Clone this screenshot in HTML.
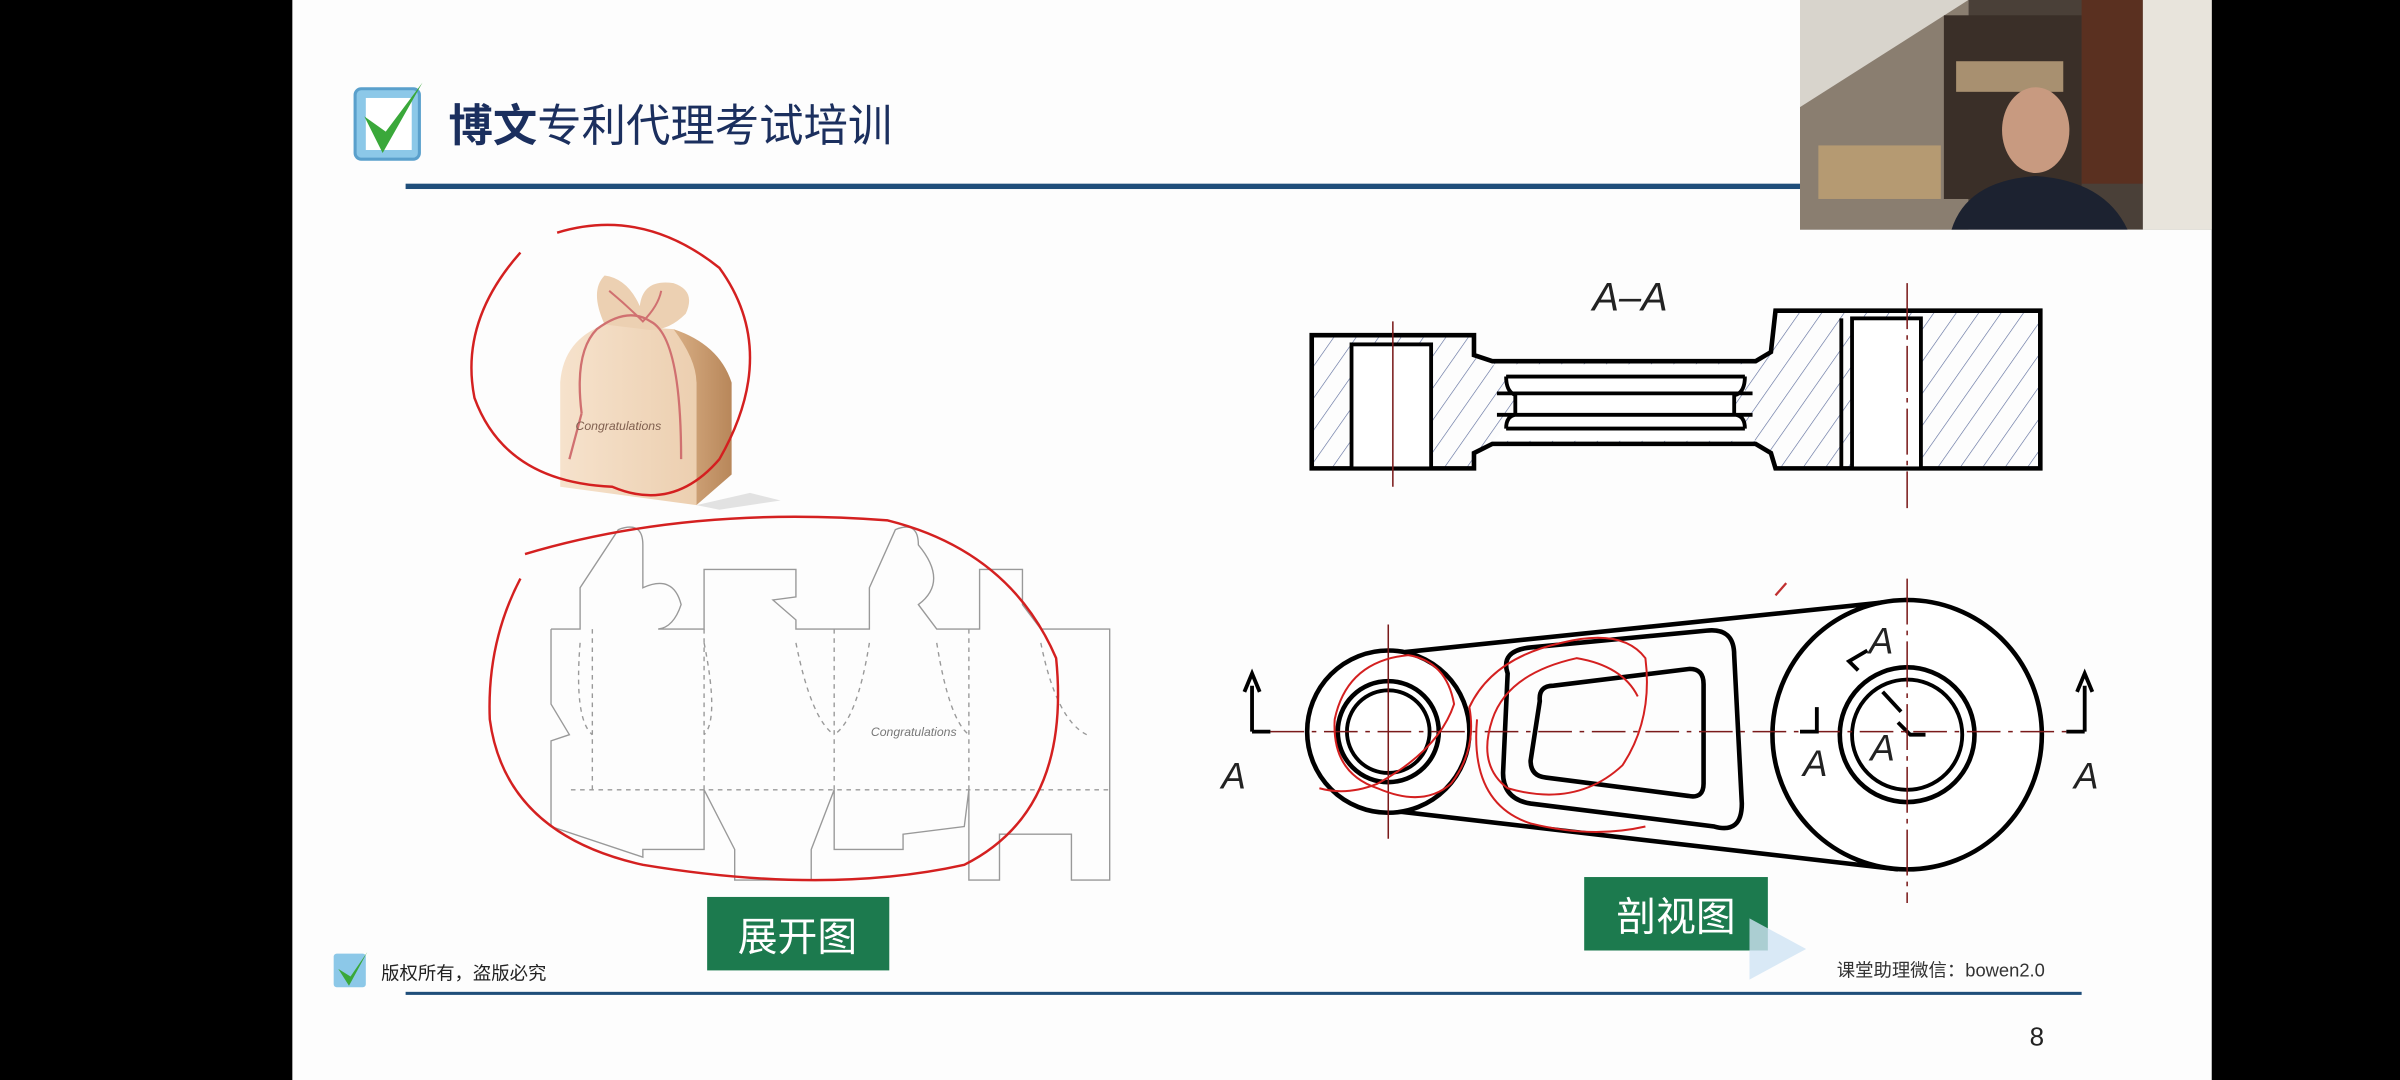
<!DOCTYPE html>
<html><head><meta charset="utf-8"><style>
html,body{margin:0;padding:0;background:#000;width:2400px;height:1080px;overflow:hidden}
svg{display:block}
text{font-family:"Liberation Sans","Noto Sans CJK SC",sans-serif}
</style></head><body>
<svg width="2400" height="1080" viewBox="0 0 1568 705.6" preserveAspectRatio="none" xmlns="http://www.w3.org/2000/svg">
<defs>
<pattern id="h" width="12" height="12" patternUnits="userSpaceOnUse" patternTransform="rotate(35)">
<line x1="0" y1="0" x2="0" y2="12" stroke="#5a6a9a" stroke-width="0.8"/></pattern>
<linearGradient id="box" x1="0" x2="1"><stop offset="0" stop-color="#f6e2cc"/><stop offset="1" stop-color="#eccfb0"/></linearGradient>
<linearGradient id="side" x1="0" x2="1"><stop offset="0" stop-color="#d8ae84"/><stop offset="1" stop-color="#b8875a"/></linearGradient>
</defs>
<rect x="0" y="0" width="1568" height="706" fill="#000"/>
<rect x="191" y="0" width="1254" height="706" fill="#fdfdfd"/>
<!-- webcam -->
<rect x="1176" y="0" width="269" height="150" fill="#4a4038"/>
<rect x="1176" y="0" width="110" height="70" fill="#d8d4cc"/>
<polygon points="1176,70 1286,0 1286,150 1176,150" fill="#8a7e70"/>
<rect x="1270" y="10" width="90" height="120" fill="#3a2f28"/>
<rect x="1278" y="40" width="70" height="20" fill="#a89070"/>
<rect x="1188" y="95" width="80" height="35" fill="#b59a72"/>
<rect x="1360" y="0" width="40" height="120" fill="#5a3020"/>
<ellipse cx="1330" cy="85" rx="22" ry="28" fill="#c89a80"/>
<path d="M1275 150 Q1285 118 1330 115 Q1375 118 1390 150Z" fill="#1c2230"/>
<rect x="1400" y="0" width="45" height="150" fill="#e8e4dc"/>
<!-- title -->
<rect x="232" y="58" width="42" height="46" rx="4" fill="#8cc8e8" stroke="#5aa0cc" stroke-width="2"/>
<rect x="239" y="64" width="30" height="34" fill="#fff"/>
<path d="M238 76 L250 100 L276 54 L252 86 Z" fill="#3aa83a"/>
<text x="293" y="92" font-size="29" fill="#1b2f5e"><tspan font-weight="bold">博文</tspan>专利代理考试培训</text>
<rect x="265" y="120" width="911" height="3.5" fill="#1f4e7a"/>
<!-- gift box -->
<path d="M455 330 L490 322 L510 327 L470 333Z" fill="#e2e2e2"/>
<path d="M440 215 Q470 225 478 250 L478 310 L455 330 L455 250 Z" fill="url(#side)"/>
<path d="M366 250 Q368 222 395 212 L440 215 Q455 235 455 250 L455 330 L366 318 Z" fill="url(#box)"/>
<path d="M395 212 Q385 190 395 180 Q410 182 418 200 Q420 182 440 185 Q455 190 448 205 Q435 218 420 215 Z" fill="#ecd0b2"/>
<path d="M380 270 Q375 230 390 215 Q410 200 425 210 Q445 220 445 300 M380 270 L372 300" fill="none" stroke="#d07070" stroke-width="1.5"/>
<path d="M398 190 Q410 200 420 210 Q430 200 432 190" fill="none" stroke="#d07070" stroke-width="1.3"/>
<text x="376" y="281" font-size="8" font-style="italic" fill="#806050" font-family="Liberation Serif,serif">Congratulations</text>
<path d="M364 152 Q420 135 470 175 Q510 230 470 300 Q440 335 400 318 Q330 315 310 260 Q300 210 340 165" fill="none" stroke="#d42020" stroke-width="1.6"/>
<!-- dieline -->
<g fill="none" stroke="#999" stroke-width="0.9">
<path d="M360 411 L379 411 L379 384 L404 346 Q420 340 420 356 L420 384 Q440 375 445 395 Q440 410 430 411 L460 411 L460 372 L520 372 L520 390 L505 392 L520 405 L520 411 L568 411 L568 384 L585 346 Q600 340 600 356 Q620 380 600 395 L612 411 L640 411 L640 372 L668 372 L668 395 L680 411 L725 411 L725 575 L700 575 L700 545 L653 545 L653 575 L633 575 L633 516 M360 411 L360 460 L372 480 L360 484 L360 540 L420 560 L420 555 L460 555 L460 516 L480 555 L480 575 L530 575 L530 555 L545 516 L545 555 L590 555 L590 545 L630 540 L633 516"/>
</g>
<g fill="none" stroke="#999" stroke-width="0.9" stroke-dasharray="3,3">
<path d="M373 516 L725 516 M387 411 L387 516 M460 411 L460 516 M545 411 L545 516 M633 411 L633 516"/>
<path d="M379 420 Q375 470 387 480 M460 420 Q470 470 460 480 M520 420 Q530 470 545 480 M568 420 Q560 470 545 480 M612 420 Q620 470 633 480 M680 420 Q690 470 710 480"/>
</g>
<text x="569" y="481" font-size="8" font-style="italic" fill="#777" font-family="Liberation Serif,serif">Congratulations</text>
<path d="M343 362 Q450 330 580 340 Q660 360 690 430 Q700 530 630 565 Q540 585 420 565 Q330 545 320 470 Q318 420 340 378" fill="none" stroke="#d42020" stroke-width="1.6"/>
<rect x="462" y="586" width="119" height="48" fill="#1c7a4e"/>
<text x="521" y="621" font-size="26" fill="#fff" text-anchor="middle">展开图</text>
<!-- section view -->
<text x="1065" y="203" font-size="26" font-style="italic" fill="#222" text-anchor="middle">A–A</text>
<path d="M857 219 L963 219 L963 232 L975 236 L1147 236 L1157 230 L1160 203 L1333 203 L1333 306 L1160 306 L1157 296 L1147 290 L975 290 L963 296 L963 306 L857 306 Z" fill="url(#h)" stroke="#000" stroke-width="3"/>
<rect x="883" y="225" width="52" height="81" fill="#fff" stroke="#000" stroke-width="2.5"/>
<rect x="1210" y="208" width="45" height="98" fill="#fff" stroke="#000" stroke-width="2.5"/>
<line x1="1203" y1="208" x2="1203" y2="306" stroke="#000" stroke-width="2.5"/>
<path d="M975 238 L1147 238 Q1140 245 1140 256 L1130 264 L1140 270 Q1140 282 1147 288 L975 288 Q984 282 984 270 L993 264 L984 256 Q984 245 975 238 Z" fill="#fff" stroke="none"/>
<path d="M984 246 L1140 246 M984 246 Q984 256 990 258 M1140 246 Q1140 256 1134 258 M978 257 L1145 257 M978 271 L1145 271 M984 280 L1140 280 M984 280 Q984 272 990 271 M1140 280 Q1140 272 1134 271 M990 257 L990 271 M1133 257 L1133 271" fill="none" stroke="#000" stroke-width="2.5"/>
<line x1="910" y1="210" x2="910" y2="318" stroke="#7a1a1a" stroke-width="1"/>
<line x1="1246" y1="185" x2="1246" y2="332" stroke="#7a1a1a" stroke-width="1" stroke-dasharray="30,4,3,4"/>
<!-- plan view -->
<path d="M918 426 L1246 392 M912 530 L1240 568" stroke="#000" stroke-width="3"/>
<circle cx="907" cy="478" r="53" fill="#fff" stroke="#000" stroke-width="3"/>
<circle cx="907" cy="478" r="33" fill="none" stroke="#000" stroke-width="3"/>
<circle cx="907" cy="478" r="27" fill="none" stroke="#000" stroke-width="2.5"/>
<circle cx="1246" cy="480" r="88" fill="#fff" stroke="#000" stroke-width="3"/>
<circle cx="1246" cy="480" r="44" fill="none" stroke="#000" stroke-width="3"/>
<circle cx="1246" cy="480" r="36" fill="none" stroke="#000" stroke-width="2.5"/>
<path d="M985 440 Q980 425 1000 423 L1115 412 Q1133 410 1133 428 L1138 525 Q1138 545 1120 540 L1000 525 Q982 522 982 505 Z" fill="none" stroke="#000" stroke-width="3"/>
<path d="M1006 458 Q1005 448 1015 448 L1104 437 Q1113 437 1113 447 L1113 512 Q1113 522 1103 520 L1010 508 Q1000 507 1000 497 Z" fill="none" stroke="#000" stroke-width="3"/>
<path d="M1214 438 L1208 432 L1220 425 M1230 452 L1242 465 M1240 472 L1248 480 L1258 480" fill="none" stroke="#000" stroke-width="2.5"/>
<line x1="830" y1="478" x2="1352" y2="478" stroke="#7a1a1a" stroke-width="1" stroke-dasharray="22,5,3,5"/>
<line x1="907" y1="408" x2="907" y2="548" stroke="#7a1a1a" stroke-width="1"/>
<line x1="1246" y1="378" x2="1246" y2="590" stroke="#7a1a1a" stroke-width="1" stroke-dasharray="30,4,3,4"/>
<path d="M818 478 L818 448 M813 452 L818 440 L823 452 M818 478 L830 478 M1362 478 L1362 448 M1357 452 L1362 440 L1367 452 M1362 478 L1350 478 M1187 462 L1187 478 L1176 478" fill="none" stroke="#000" stroke-width="2.5"/>
<g font-size="24" font-style="italic" fill="#222">
<text x="798" y="515">A</text><text x="1355" y="515">A</text><text x="1178" y="507">A</text><text x="1221" y="427">A</text><text x="1222" y="497">A</text></g>
<path d="M1160 389 L1167 381" stroke="#c03030" stroke-width="1.5"/>
<g fill="none" stroke="#d42020" stroke-width="1.3">
<path d="M862 515 Q880 520 900 512 Q940 490 950 460 Q945 432 920 428 Q880 432 872 470 Q870 505 900 515 Q930 528 948 512 Q965 490 960 462 Q975 430 1020 420 Q1060 410 1075 430 Q1080 470 1060 500 Q1030 528 985 515 Q965 500 975 470 Q985 440 1030 430 Q1060 435 1070 455"/>
<path d="M965 470 Q960 525 1000 538 Q1040 548 1075 540"/>
</g>
<rect x="1035" y="573" width="120" height="48" fill="#1c7a4e"/>
<text x="1095" y="608" font-size="26" fill="#fff" text-anchor="middle">剖视图</text>
<path d="M1143 600 L1180 620 L1143 640 Z" fill="#cfe4f4" opacity="0.8"/>
<!-- footer -->
<rect x="218" y="623" width="21" height="22" rx="2" fill="#8cc8e8"/>
<path d="M221 633 L228 644 L240 622 L229 638 Z" fill="#3aa83a"/>
<text x="249" y="640" font-size="12" fill="#222">版权所有，盗版必究</text>
<text x="1200" y="638" font-size="12" fill="#333">课堂助理微信：bowen2.0</text>
<rect x="265" y="648" width="1095" height="2" fill="#1f4e7a"/>
<text x="1326" y="683" font-size="17" fill="#222">8</text>
</svg>
</body></html>
